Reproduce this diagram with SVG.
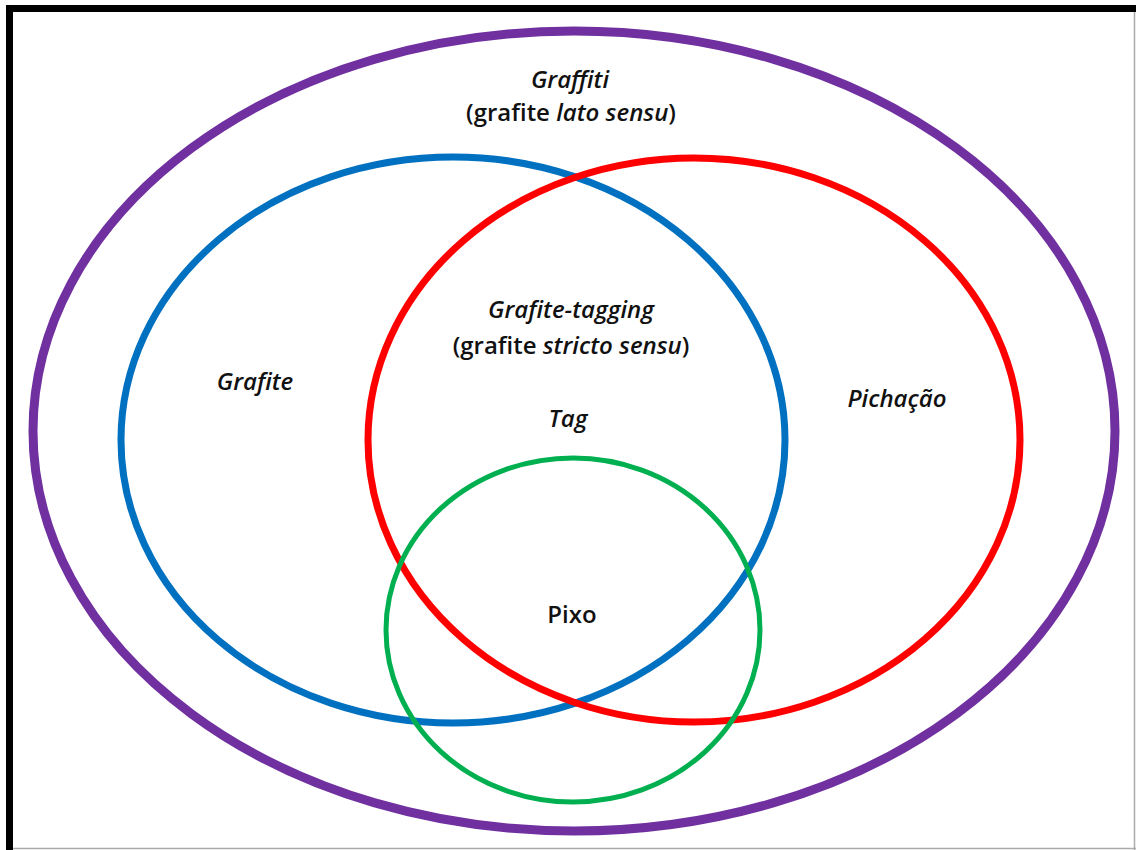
<svg xmlns="http://www.w3.org/2000/svg" width="1136" height="850" viewBox="0 0 1136 850">
<style>
text{font-family:"Open Sans","Noto Sans",sans-serif;font-weight:600;font-size:24px;fill:#111;text-anchor:middle}
.i{font-style:italic}
.set{fill:none}
</style>
<rect x="0" y="0" width="1136" height="850" fill="#fff"/>
<rect x="6" y="5" width="1130" height="7" fill="#000"/>
<rect x="6" y="5" width="7" height="845" fill="#000"/>
<line x1="1134.5" y1="12" x2="1134.5" y2="850" stroke="#aaa" stroke-width="1.5"/>
<line x1="13" y1="848.5" x2="1136" y2="848.5" stroke="#aaa" stroke-width="1.5"/>
<g id="graffiti">
<ellipse class="set" cx="574" cy="431" rx="541" ry="400" stroke="#7030a0" stroke-width="9"/>
<text class="i" x="570" y="88">Graffiti</text>
<text x="571" y="121">(grafite <tspan class="i">lato sensu</tspan>)</text>
</g>
<g id="grafite">
<ellipse class="set" cx="453" cy="440" rx="332" ry="283" stroke="#0070c0" stroke-width="7"/>
<text class="i" x="255" y="390">Grafite</text>
</g>
<g id="pichacao">
<ellipse class="set" cx="694" cy="440" rx="326" ry="282" stroke="#ff0000" stroke-width="7"/>
<text class="i" x="897" y="407">Pichação</text>
</g>
<g id="grafite-tagging">
<text class="i" x="571" y="318">Grafite-tagging</text>
<text x="571" y="354">(grafite <tspan class="i">stricto sensu</tspan>)</text>
<text class="i" x="568" y="427">Tag</text>
</g>
<g id="pixo">
<ellipse class="set" cx="573" cy="630" rx="187" ry="172" stroke="#00b050" stroke-width="5"/>
<text x="572" y="623">Pixo</text>
</g>
<g id="connectors"/>
</svg>
